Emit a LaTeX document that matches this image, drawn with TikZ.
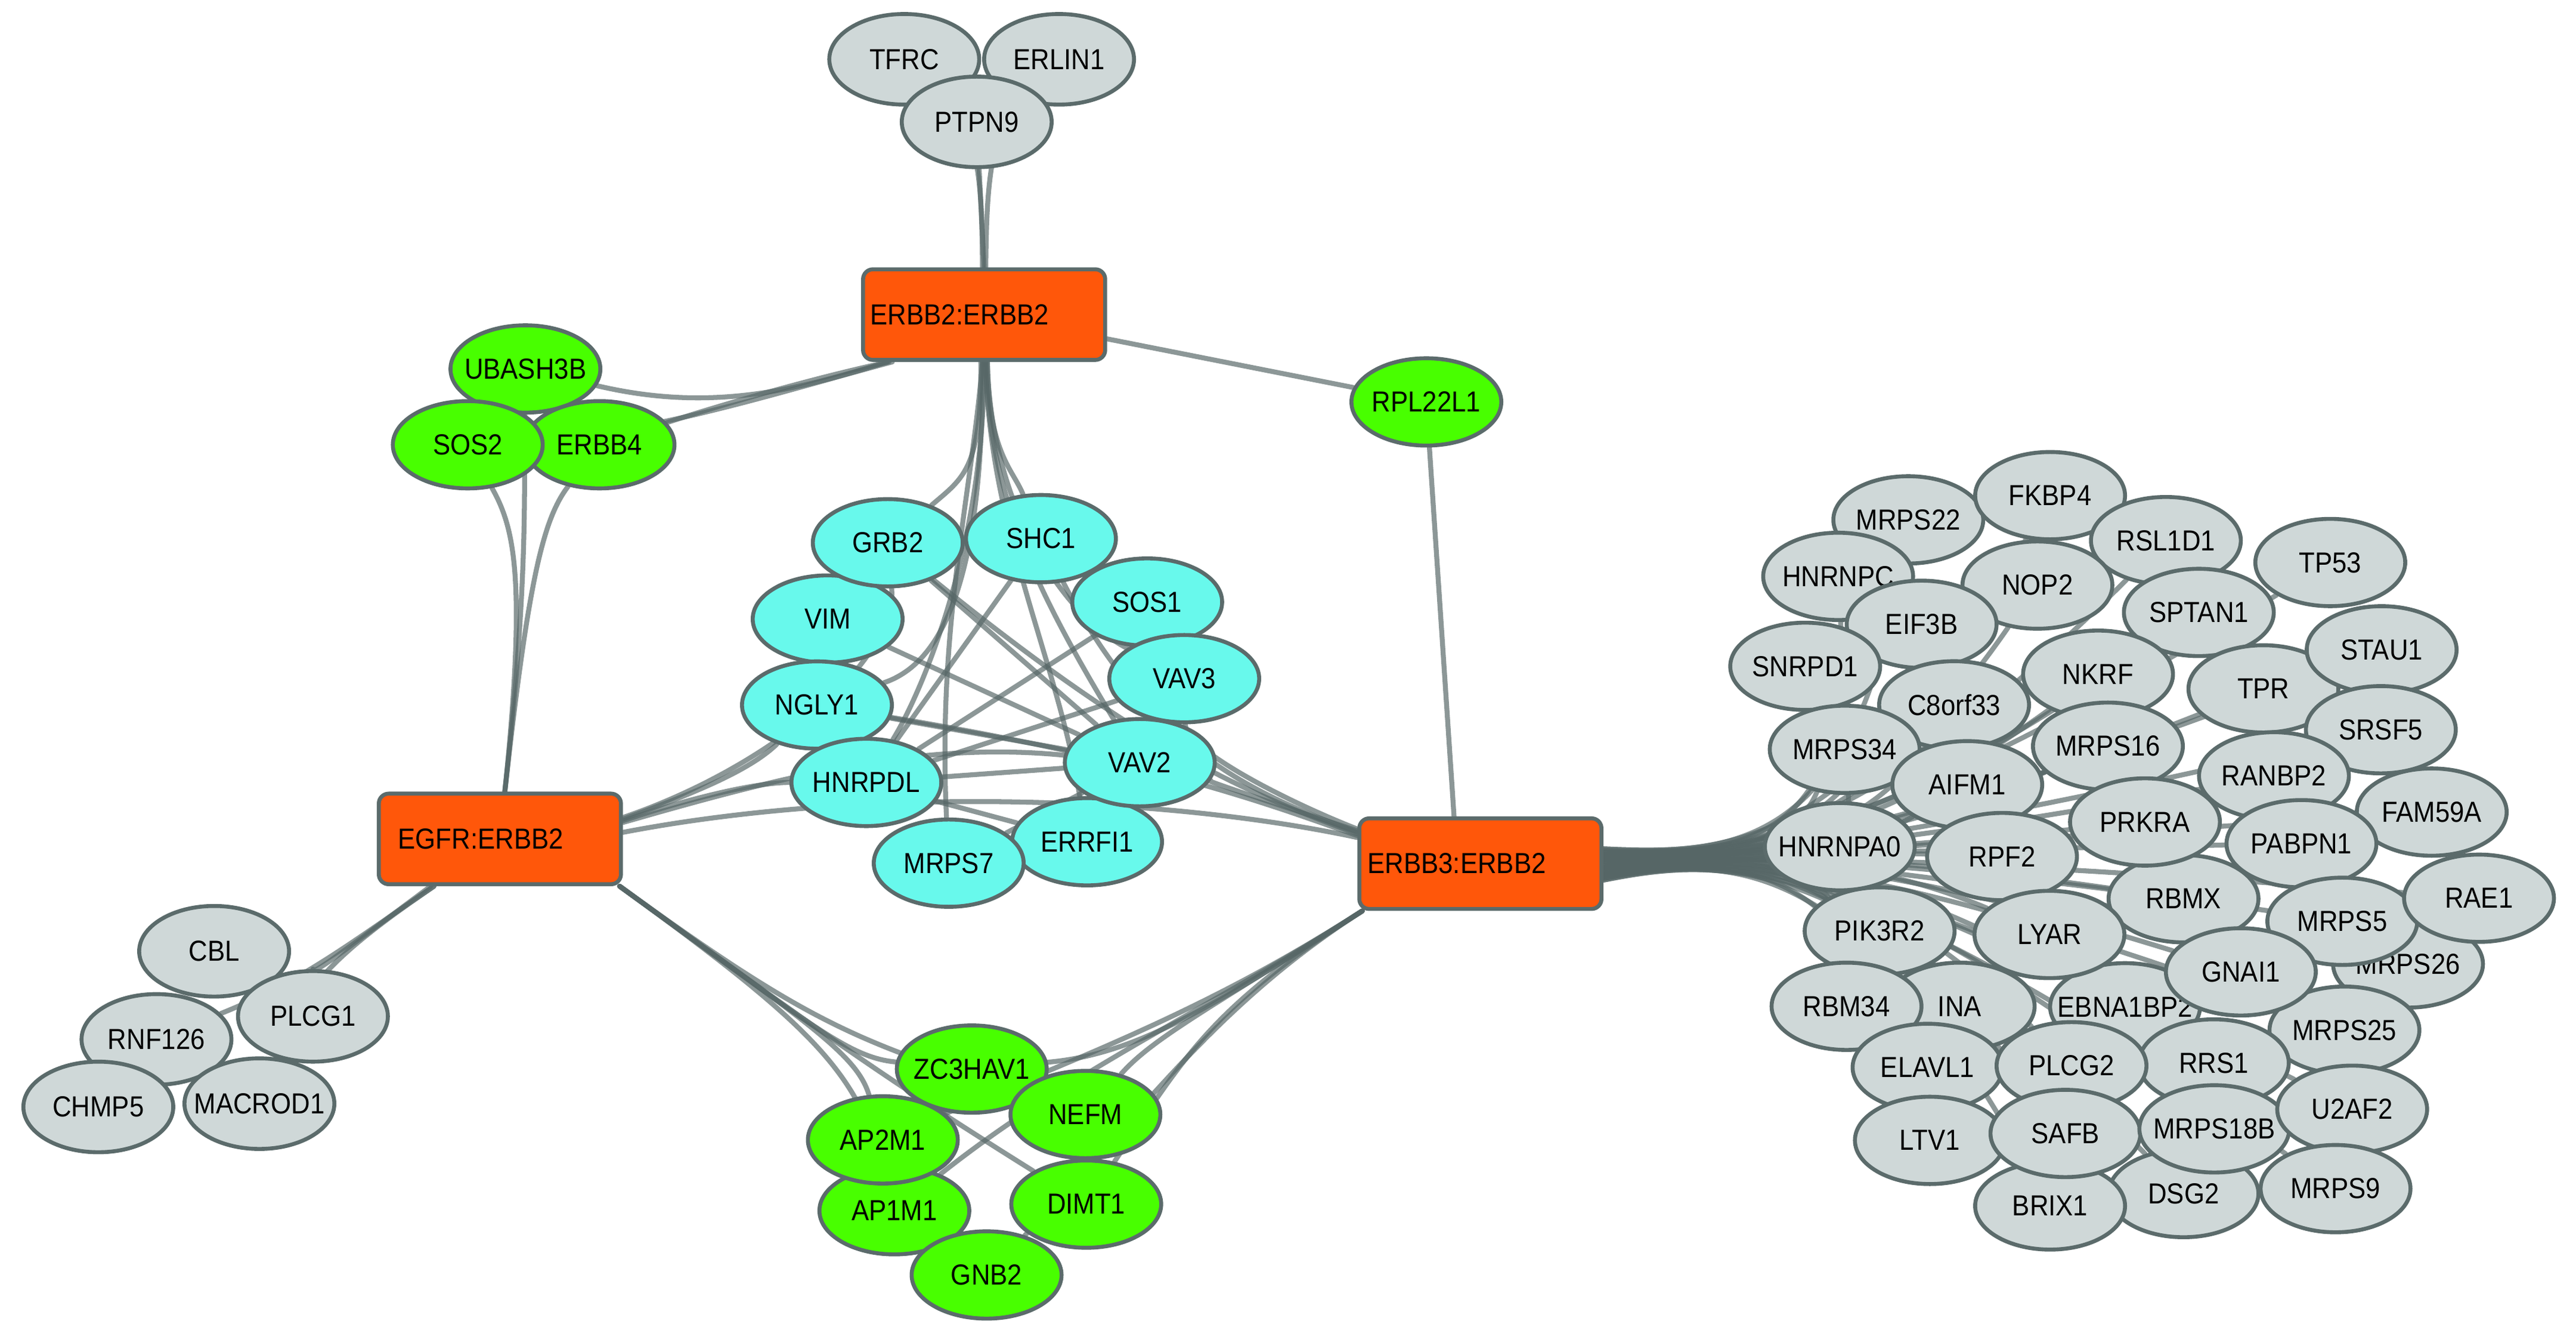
\documentclass[tikz,border=0pt]{standalone}
\usepackage{fontspec}
\setmainfont{Liberation Sans}[FakeStretch=0.9]
\usetikzlibrary{shapes.geometric}
\pgfdeclarelayer{bg}
\pgfsetlayers{bg,main}
\definecolor{ec}{HTML}{566666}
\definecolor{bc}{HTML}{5B6B6B}
\definecolor{orf}{HTML}{FF570A}
\definecolor{grf}{HTML}{48FF00}
\definecolor{cyf}{HTML}{68F9EC}
\definecolor{gyf}{HTML}{CFD8D8}
\newcommand\mk[1]{\makebox[0pt]{#1}}
\begin{document}
\begin{tikzpicture}[x=1pt,y=-1pt,
  nd/.style={ellipse, draw=bc, line width=2.4pt, minimum width=91pt, minimum height=53pt, inner sep=0pt, font=\fontsize{17.6}{20}\selectfont},
  gy/.style={nd, fill=gyf}, gr/.style={nd, fill=grf}, cy/.style={nd, fill=cyf},
  rn/.style={rectangle, rounded corners=6pt, draw=bc, line width=2.4pt, fill=orf, minimum width=147pt, minimum height=55pt, inner sep=0pt},
  lb/.style={anchor=west, inner sep=0pt, font=\fontsize{17.6}{20}\selectfont},
  edg/.style={draw=ec, line width=3pt, draw opacity=0.68, line cap=round}]
\useasboundingbox (0,0) rectangle (1564,815.3);

% ---------- top cluster ----------
\node[gy,minimum height=55pt] (TFRC) at (549,36) {\mk{TFRC}};
\node[gy,minimum height=55pt] (ERLIN1) at (643,36) {\mk{ERLIN1}};
\node[gy,minimum height=55pt] (PTPN9) at (593,74) {\mk{PTPN9}};
\node[rn] (ERBB2) at (597.5,191) {};
\node[lb] (ERBB2t) at ([xshift=5.5pt]ERBB2.west) {ERBB2:ERBB2};

% ---------- left green ----------
\node[gr] (UBASH3B) at (319,224) {\mk{UBASH3B}};
\node[gr] (ERBB4) at (364,270) {\mk{ERBB4}};
\node[gr] (SOS2) at (284,270) {\mk{SOS2}};
\node[gr] (RPL22L1) at (866,244) {\mk{RPL22L1}};

% ---------- cyan cluster ----------
\node[cy] (VIM) at (502.5,375.8) {\mk{VIM}};
\node[cy] (GRB2) at (539,329.5) {\mk{GRB2}};
\node[cy] (SHC1) at (632,327) {\mk{SHC1}};
\node[cy] (SOS1) at (696.5,365.5) {\mk{SOS1}};
\node[cy] (VAV3) at (719,412) {\mk{VAV3}};
\node[cy] (NGLY1) at (496,428) {\mk{NGLY1}};
\node[cy] (HNRPDL) at (526,475) {\mk{HNRPDL}};
\node[cy] (ERRFI1) at (660,511) {\mk{ERRFI1}};
\node[cy] (VAV2) at (692,463) {\mk{VAV2}};
\node[cy] (MRPS7) at (576,524) {\mk{MRPS7}};

% ---------- complexes ----------
\node[rn] (EGFR) at (303.5,509.3) {};
\node[lb] (EGFRt) at ([xshift=12.7pt]EGFR.west) {EGFR:ERBB2};
\node[rn] (ERBB3) at (898.8,524.3) {};
\node[lb] (ERBB3t) at ([xshift=6pt]ERBB3.west) {ERBB3:ERBB2};

% ---------- bottom-left gray ----------
\node[gy,minimum height=55pt] (CBL) at (130,577.5) {\mk{CBL}};
\node[gy,minimum height=55pt] (RNF126) at (95,631) {\mk{RNF126}};
\node[gy,minimum height=55pt] (CHMP5) at (59.7,672) {\mk{CHMP5}};
\node[gy,minimum height=55pt] (MACROD1) at (157.5,670) {\mk{MACROD1}};
\node[gy,minimum height=55pt] (PLCG1) at (190,617) {\mk{PLCG1}};

% ---------- bottom green ----------
\node[gr] (ZC3HAV1) at (590,649) {\mk{ZC3HAV1}};
\node[gr] (AP1M1) at (543,735) {\mk{AP1M1}};
\node[gr] (AP2M1) at (536,692) {\mk{AP2M1}};
\node[gr] (DIMT1) at (659.5,731) {\mk{DIMT1}};
\node[gr] (NEFM) at (659,676.6) {\mk{NEFM}};
\node[gr] (GNB2) at (599,774) {\mk{GNB2}};

% ---------- right gray cluster ----------
\node[gy] (MRPS22) at (1158.6,315.6) {\mk{MRPS22}};
\node[gy] (FKBP4) at (1244.7,300.9) {\mk{FKBP4}};
\node[gy] (RSL1D1) at (1315,328.2) {\mk{RSL1D1}};
\node[gy] (TP53) at (1414.8,341.5) {\mk{TP53}};
\node[gy] (HNRNPC) at (1116,349.9) {\mk{HNRNPC}};
\node[gy] (NOP2) at (1237,355.2) {\mk{NOP2}};
\node[gy] (EIF3B) at (1166.7,379) {\mk{EIF3B}};
\node[gy] (SPTAN1) at (1335,371.8) {\mk{SPTAN1}};
\node[gy] (SNRPD1) at (1096,404.5) {\mk{SNRPD1}};
\node[gy] (NKRF) at (1273.8,409.3) {\mk{NKRF}};
\node[gy] (TPR) at (1374.2,418.2) {\mk{TPR}};
\node[gy] (STAU1) at (1446,394.5) {\mk{STAU1}};
\node[gy] (SRSF5) at (1445.5,443) {\mk{SRSF5}};
\node[gy] (C8orf33) at (1186.4,427.9) {\mk{C8orf33}};
\node[gy] (MRPS34) at (1120,454.9) {\mk{MRPS34}};
\node[gy] (MRPS16) at (1279.8,453) {\mk{MRPS16}};
\node[gy] (AIFM1) at (1194.4,476.4) {\mk{AIFM1}};
\node[gy] (RANBP2) at (1380.6,471) {\mk{RANBP2}};
\node[gy] (FAM59A) at (1476.4,493) {\mk{FAM59A}};
\node[gy] (PIK3R2) at (1141.2,565.2) {\mk{PIK3R2}};
\node[gy] (HNRNPA0) at (1117,514) {\mk{HNRNPA0}};
\node[gy] (RBMX) at (1325.7,545.6) {\mk{RBMX}};
\node[gy] (PRKRA) at (1302.3,499) {\mk{PRKRA}};
\node[gy] (PABPN1) at (1397.3,512.2) {\mk{PABPN1}};
\node[gy] (RPF2) at (1215.5,520) {\mk{RPF2}};
\node[gy] (MRPS26) at (1462,585.2) {\mk{MRPS26}};
\node[gy] (MRPS5) at (1422.1,559.3) {\mk{MRPS5}};
\node[gy] (RAE1) at (1505.1,545.3) {\mk{RAE1}};
\node[gy] (INA) at (1189.8,610.9) {\mk{INA}};
\node[gy] (RBM34) at (1121.1,610.9) {\mk{RBM34}};
\node[gy] (EBNA1BP2) at (1290.2,611.2) {\mk{EBNA1BP2}};
\node[gy] (LYAR) at (1244.3,567.3) {\mk{LYAR}};
\node[gy] (MRPS25) at (1423.4,625.4) {\mk{MRPS25}};
\node[gy] (RRS1) at (1344.1,645.3) {\mk{RRS1}};
\node[gy] (GNAI1) at (1360.5,590) {\mk{GNAI1}};
\node[gy] (ELAVL1) at (1170.3,648) {\mk{ELAVL1}};
\node[gy] (PLCG2) at (1257.7,647) {\mk{PLCG2}};
\node[gy] (LTV1) at (1171.7,692.3) {\mk{LTV1}};
\node[gy] (DSG2) at (1325.7,724.6) {\mk{DSG2}};
\node[gy] (BRIX1) at (1244.7,732.1) {\mk{BRIX1}};
\node[gy] (SAFB) at (1254,688.1) {\mk{SAFB}};
\node[gy] (MRPS18B) at (1344.4,685.3) {\mk{MRPS18B}};
\node[gy] (U2AF2) at (1428.1,673.4) {\mk{U2AF2}};
\node[gy] (MRPS9) at (1418,721.6) {\mk{MRPS9}};

% ================= edges =================
\begin{pgfonlayer}{bg}
% top
\draw[edg] (TFRC) .. controls (596,80) and (596,120) .. ([xshift=-1pt]ERBB2.north);
\draw[edg] (ERLIN1) .. controls (600,80) and (599,120) .. ([xshift=1pt]ERBB2.north);
\draw[edg] (PTPN9) -- (ERBB2.north);
% ERBB2 to left green
\draw[edg] (UBASH3B) .. controls (430,250) and (480,238) .. ([xshift=16pt]ERBB2.south west);
\draw[edg] (ERBB4) .. controls (440,245) and (500,228) .. ([xshift=17pt]ERBB2.south west);
\draw[edg] (SOS2) .. controls (400,262) and (480,236) .. ([xshift=19pt]ERBB2.south west);
% RPL22L1
\draw[edg] (ERBB2) -- (RPL22L1);
\draw[edg] (RPL22L1) -- ([xshift=-16pt]ERBB3.north);
% left green to EGFR
\draw[edg] (SOS2) .. controls (312,320) and (320,350) .. ([xshift=3pt]EGFR.north);
\draw[edg] (ERBB4) .. controls (330,315) and (321,350) .. ([xshift=3pt]EGFR.north);
\draw[edg] (UBASH3B) .. controls (318,300) and (321,350) .. ([xshift=3pt]EGFR.north);
% ERBB2 fan into cyan
\draw[edg] ([xshift=-2pt]ERBB2.south) .. controls (596,285) and (585,290) .. (GRB2);
\draw[edg] ([xshift=2pt]ERBB2.south) .. controls (600,275) and (615,285) .. (SHC1);
\draw[edg] ([xshift=-1pt]ERBB2.south) .. controls (597,330) and (580,400) .. (NGLY1);
\draw[edg] (ERBB2.south) .. controls (598,330) and (560,420) .. (HNRPDL);
\draw[edg] ([xshift=1pt]ERBB2.south) .. controls (600,300) and (630,360) .. (VAV2);
\draw[edg] ([xshift=2pt]ERBB2.south) .. controls (601,300) and (640,370) .. (VAV3);
\draw[edg] ([xshift=-1pt]ERBB2.south) .. controls (590,300) and (569,380) .. (MRPS7);
\draw[edg] ([xshift=1pt]ERBB2.south) .. controls (600,320) and (642,400) .. (ERRFI1);
% EGFR into cyan
\draw[edg] ([yshift=12pt]EGFR.east) .. controls (420,482) and (455,468) .. (NGLY1);
\draw[edg] ([yshift=11pt]EGFR.east) .. controls (420,484) and (460,475) .. (HNRPDL);
\draw[edg] ([yshift=13pt]EGFR.east) .. controls (470,465) and (545,400) .. (GRB2);
\draw[edg] ([yshift=10pt]EGFR.east) .. controls (480,470) and (560,450) .. (VAV2);
\draw[edg] ([yshift=4pt]EGFR.east) .. controls (520,478) and (700,482) .. (ERBB3);
% cyan internal
\draw[edg] (SHC1) -- (HNRPDL);
\draw[edg] (GRB2) -- (VAV2);
\draw[edg] (VIM) -- (VAV2);
\draw[edg] (SOS1) -- (HNRPDL);
\draw[edg] (VAV3) -- (HNRPDL);
\draw[edg] (NGLY1) -- (VAV2);
\draw[edg] (HNRPDL) -- (VAV2);
\draw[edg] (MRPS7) -- (VAV2);
\draw[edg] (HNRPDL) -- (ERRFI1);
% ERBB3 to cyan bundle
\draw[edg] ([yshift=20pt]ERBB3.west) .. controls (780,490) and (720,470) .. (VAV2);
\draw[edg] ([yshift=19pt]ERBB3.west) .. controls (770,485) and (700,460) .. (SHC1);
\draw[edg] ([yshift=18pt]ERBB3.west) .. controls (760,482) and (700,460) .. (GRB2);
\draw[edg] ([yshift=17pt]ERBB3.west) .. controls (770,488) and (700,462) .. (NGLY1);
\draw[edg] ([yshift=21pt]ERBB3.west) .. controls (780,486) and (720,455) .. (VAV3);
% EGFR to bottom green
\draw[edg] ([xshift=-2pt]EGFR.south east) .. controls (492,622) and (515,642) .. (ZC3HAV1);
\draw[edg] ([xshift=-2pt]EGFR.south east) .. controls (492,622) and (520,640) .. (AP2M1);
\draw[edg] ([xshift=-2pt]EGFR.south east) .. controls (492,622) and (530,650) .. (DIMT1);
\draw[edg] ([xshift=-2pt]EGFR.south east) .. controls (492,622) and (520,650) .. (AP1M1);
\draw[edg] ([xshift=-2pt]EGFR.south east) .. controls (492,622) and (520,632) .. (NEFM);
% ERBB3 to bottom green
\draw[edg] ([xshift=3pt]ERBB3.south west) .. controls (735,612) and (690,640) .. (ZC3HAV1);
\draw[edg] ([xshift=3pt]ERBB3.south west) .. controls (735,612) and (700,630) .. (NEFM);
\draw[edg] ([xshift=3pt]ERBB3.south west) .. controls (735,612) and (720,640) .. (DIMT1);
\draw[edg] ([xshift=3pt]ERBB3.south west) .. controls (735,612) and (650,650) .. (AP1M1);
\draw[edg] ([xshift=3pt]ERBB3.south west) .. controls (735,612) and (690,680) .. (GNB2);
\draw[edg] ([xshift=3pt]ERBB3.south west) .. controls (735,612) and (660,640) .. (AP2M1);
% EGFR to bottom-left gray
\draw[edg] ([xshift=-40pt]EGFR.south) .. controls (205,578) and (182,596) .. (RNF126);
\draw[edg] ([xshift=-40pt]EGFR.south) .. controls (205,578) and (182,600) .. (MACROD1);
\draw[edg] ([xshift=-42pt]EGFR.south) .. controls (205,580) and (190,592) .. (PLCG1);
% ERBB3 to right cluster
\draw[edg] (ERBB3) -- (HNRNPA0);
\foreach \t/\o in {MRPS22/9, FKBP4/9, RSL1D1/8, TP53/8, HNRNPC/7, NOP2/7, EIF3B/6, SPTAN1/6, STAU1/5, SNRPD1/5, NKRF/4, TPR/4, C8orf33/3, SRSF5/3, MRPS34/2, MRPS16/2, AIFM1/1, RANBP2/1, FAM59A/0, PRKRA/0, RPF2/-1, PABPN1/-1, RBMX/-2, RAE1/-2, MRPS5/-3, MRPS26/-3, PIK3R2/-4, LYAR/-4, GNAI1/-5, RBM34/-5, INA/-6, EBNA1BP2/-6, MRPS25/-7, ELAVL1/-7, PLCG2/-7, RRS1/-8, U2AF2/-8, LTV1/-8, SAFB/-9, MRPS18B/-9, BRIX1/-9, DSG2/-10, MRPS9/-10}
  \draw[edg] ([yshift=\o pt]ERBB3.east) .. controls (1050,519) and (1125,517) .. (\t);
\end{pgfonlayer}
\end{tikzpicture}
\end{document}
